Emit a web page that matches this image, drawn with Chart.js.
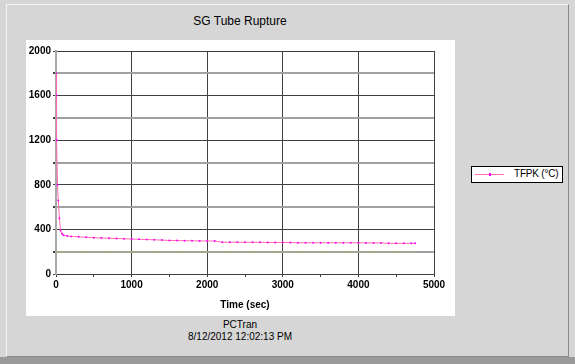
<!DOCTYPE html>
<html>
<head>
<meta charset="utf-8">
<script src="https://cdn.jsdelivr.net/npm/chart.js@4"></script>
<style>
  html, body { margin: 0; padding: 0; }
  body {
    width: 575px; height: 364px; background: #d6d6d6; position: relative;
    overflow: hidden; font-family: "Liberation Sans", Arial, sans-serif;
  }
  #frame {
    position: absolute; left: 6px; top: 4px; width: 561px; height: 351px;
    border-top: 1px solid #f4f4f4; border-left: 1px solid #f4f4f4;
    border-right: 1px solid #8a8a8a; border-bottom: 1px solid #8a8a8a;
  }
  #bottomband { position: absolute; left: 0; top: 357px; width: 575px; height: 7px; background: #9a9a9a; }
  #panel { position: absolute; left: 26px; top: 40px; width: 429px; height: 276px; background: #fff; }
  #title { position: absolute; left: 0; top: 14px; width: 480px; text-align: center; font-size: 12px; color: #000; }
  #footer { position: absolute; left: 0; top: 319px; width: 480px; text-align: center; font-size: 10px; line-height: 12px; color: #000; }
  #legend {
    position: absolute; left: 471px; top: 166px; width: 90px; height: 15px;
    background: #fff; border: 1px solid #000; font-size: 10px; white-space: nowrap;
  }
  #legend .line { position: absolute; left: 3px; top: 7px; width: 29px; height: 1px; background: #ff6fb0; }
  #legend .dot { position: absolute; left: 17px; top: 6px; width: 2px; height: 3px; background: #ff00ff; }
  #legend .txt { position: absolute; left: 42px; top: 1px; letter-spacing: -0.2px; }
  #wrap { position: absolute; left: 26px; top: 40px; width: 429px; height: 276px; }
</style>
</head>
<body>
<div id="frame"></div>
<div id="bottomband"></div>
<div id="panel"></div>
<div id="title">SG Tube Rupture</div>
<div id="wrap"><canvas id="c"></canvas></div>
<div id="legend"><div class="line"></div><div class="dot"></div><div class="txt">TFPK (°C)</div></div>
<div id="footer">PCTran<br>8/12/2012 12:02:13 PM</div>
<script>
// values
const times = [0, 5, 10, 20, 30, 45, 60, 80, 100, 150, 200, 300, 400, 500, 600, 700, 800, 900,
  1000, 1100, 1200, 1300, 1400, 1500, 1600, 1700, 1800, 1900, 2000, 2100, 2200, 2300, 2400,
  2500, 2600, 2700, 2800, 2900, 3000, 3100, 3200, 3300, 3400, 3500, 3600, 3700, 3800, 3900,
  4000, 4100, 4200, 4300, 4400, 4500, 4600, 4700, 4750];
const tfpk = [1800, 1600, 1200, 800, 660, 500, 390, 360, 348, 340, 337, 333, 330, 326, 323, 321, 318, 316,
  313, 311, 309, 307, 304, 301, 300, 299, 298, 297, 296, 296, 285, 285, 285,
  284, 284, 284, 283, 283, 283, 282, 280, 280, 280, 280, 280, 280, 280, 280,
  280, 279, 279, 279, 275, 275, 275, 275, 275];
const refTimes = [0, 4750];
const refLevel = [200, 200];

const xTicks = { max: 5000, step: 500 };
const yTicks = { max: 2000, step: 200 };

const tickFont = { family: 'Liberation Sans', size: 10, weight: 'bold' };

new Chart(document.getElementById('c'), {
  type: 'line',
  data: {
    datasets: [
      {
        label: 'TFPK (°C)',
        data: times.map((t, i) => ({ x: t, y: tfpk[i] })),
        borderColor: '#ff6fb0',
        borderWidth: 1,
        pointRadius: 1,
        pointBackgroundColor: '#ff00ff',
        pointBorderColor: '#ff00ff',
        pointBorderWidth: 0,
        fill: false
      },
      {
        label: 'ref',
        data: refTimes.map((t, i) => ({ x: t, y: refLevel[i] })),
        borderColor: '#b8b070',
        borderWidth: 1,
        borderDash: [2, 1],
        pointRadius: 0,
        fill: false
      }
    ]
  },
  options: {
    responsive: true,
    maintainAspectRatio: false,
    animation: false,
    layout: { padding: { left: 0, right: 21, top: 11, bottom: 5 } },
    plugins: { legend: { display: false }, tooltip: { enabled: false } },
    scales: {
      x: {
        type: 'linear', min: 0, max: xTicks.max,
        afterFit: s => { s.height = 37; },
        ticks: {
          stepSize: xTicks.step, color: '#000', font: tickFont, maxRotation: 0, padding: 2,
          callback: v => (v % 1000 === 0 ? v : '')
        },
        grid: {
          color: c => (c.tick && c.tick.value % 1000 === 0 ? '#404040' : 'rgba(0,0,0,0)'),
          tickColor: '#404040', tickLength: 3, lineWidth: 1
        },
        border: { color: '#404040', width: 1 },
        title: { display: true, text: 'Time (sec)', color: '#000', font: tickFont, padding: { top: 0, bottom: 0 } }
      },
      y: {
        min: 0, max: yTicks.max,
        afterFit: s => { s.width = 30; },
        ticks: {
          stepSize: yTicks.step, color: '#000', font: tickFont, padding: 2,
          callback: v => (v % 400 === 0 ? v : '')
        },
        grid: {
          color: c => (c.tick && c.tick.value % 400 === 0 ? '#404040' : '#a0a0a0'),
          lineWidth: c => (c.tick && c.tick.value % 400 === 0 ? 1 : 2),
          tickColor: '#404040', tickLength: 3
        },
        border: { color: '#a8a8a8', width: 2 }
      }
    }
  }
});
</script>
</body>
</html>
